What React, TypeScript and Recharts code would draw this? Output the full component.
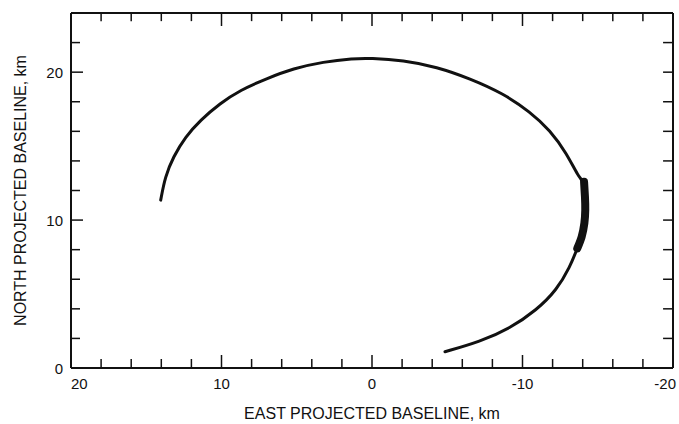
import React from 'react';
import { LineChart, Line, XAxis, YAxis, Label, ReferenceLine } from 'recharts';

// baseline track (east, north in km), start -> end
const eastTrack = [
  14.04, 13.75, 13.2, 12.4, 11.4, 10.1, 8.77, 7.0, 5.23, 3.24, 1.24, 0.13,
  -2.08, -4.3, -6.51, -8.72, -10.5, -11.83, -12.94, -13.71, -14.09, -14.15,
  -14.17, -14.11, -13.93, -13.64, -13.16, -12.27, -10.94, -9.17, -7.18, -4.85,
];
const northTrack = [
  11.35, 12.93, 14.28, 15.63, 16.76, 17.89, 18.78, 19.57, 20.25, 20.7, 20.93, 20.95,
  20.81, 20.36, 19.57, 18.56, 17.32, 16.08, 14.5, 12.93, 12.59, 11.57,
  10.68, 9.78, 8.87, 8.09, 6.84, 5.27, 3.92, 2.68, 1.78, 1.1,
];

// heavy (densely sampled) stretch of the track
const eastHeavy = [-14.09, -14.15, -14.17, -14.11, -13.93, -13.64];
const northHeavy = [12.59, 11.57, 10.68, 9.78, 8.87, 8.09];

const eastTicks = [20, 18, 16, 14, 12, 10, 8, 6, 4, 2, 0, -2, -4, -6, -8, -10, -12, -14, -16, -18, -20];
const northTicks = [0, 2, 4, 6, 8, 10, 12, 14, 16, 18, 20, 22, 24];

const trackData = eastTrack.map((e, i) => ({ east: e, north: northTrack[i] }));
const heavyData = eastHeavy.map((e, i) => ({ east: e, north: northHeavy[i] }));

const INK = '#111';
const FONT = '"Liberation Sans", Arial, Helvetica, sans-serif';

const W = 679;
const H = 424;

// inward tick lengths on the top and right frame, in axis units
const TOP_MAJOR = 0.88;
const TOP_MINOR = 0.55;
const RIGHT_LEN = 0.66;

const BottomTick = (props: any) => {
  const { x, y, payload } = props;
  const v = payload.value;
  const major = v % 10 === 0;
  const axisY = y - 10;
  let anchor = 'middle';
  let tx = x;
  if (v === 20) anchor = 'start';
  if (v === -20) {
    anchor = 'end';
    tx = x + 3;
  }
  return (
    <g>
      <line x1={x} x2={x} y1={axisY} y2={axisY - (major ? 13 : 9)} stroke={INK} strokeWidth={1.5} />
      {major && (
        <text x={tx} y={axisY + 21} textAnchor={anchor} fontSize={15} fill={INK} fontFamily={FONT}>
          {v}
        </text>
      )}
    </g>
  );
};

const LeftTick = (props: any) => {
  const { x, y, payload } = props;
  const v = payload.value;
  const major = v % 10 === 0;
  const axisX = x + 8;
  return (
    <g>
      <line x1={axisX} x2={axisX + (major ? 12 : 9)} y1={y} y2={y} stroke={INK} strokeWidth={1.5} />
      {major && v !== 24 && (
        <text x={x} y={y + 5.5} textAnchor="end" fontSize={15} fill={INK} fontFamily={FONT}>
          {v}
        </text>
      )}
    </g>
  );
};

const axisLine = { stroke: INK, strokeWidth: 2 };

export default function App() {
  return (
    <div style={{ position: 'absolute', left: 0, top: 0, width: W, height: H, background: '#fff', fontFamily: FONT }}>
      <LineChart width={W} height={H} margin={{ top: 12, right: 5, bottom: 0, left: 0 }}>
        <XAxis
          xAxisId={0}
          type="number"
          dataKey="east"
          domain={[-20, 20]}
          reversed
          allowDataOverflow
          ticks={eastTicks}
          interval={0}
          height={56}
          tickSize={0}
          tickMargin={10}
          tickLine={false}
          axisLine={axisLine}
          tick={<BottomTick />}
        >
          <Label
            content={(p: any) => {
              const vb = p.viewBox;
              return (
                <text x={vb.x + vb.width / 2} y={vb.y + 51} textAnchor="middle" fontSize={16} fill={INK} fontFamily={FONT}>
                  EAST PROJECTED BASELINE, km
                </text>
              );
            }}
          />
        </XAxis>
        <XAxis
          xAxisId="top"
          orientation="top"
          type="number"
          dataKey="east"
          domain={[-20, 20]}
          reversed
          allowDataOverflow
          height={1}
          tick={false}
          tickLine={false}
          axisLine={axisLine}
        />
        <YAxis
          yAxisId={0}
          type="number"
          domain={[0, 24]}
          allowDataOverflow
          ticks={northTicks}
          interval={0}
          width={71}
          tickSize={0}
          tickMargin={8}
          tickLine={false}
          axisLine={axisLine}
          tick={<LeftTick />}
        >
          <Label
            content={(p: any) => {
              const vb = p.viewBox;
              const cx = vb.x + 20;
              const cy = vb.y + vb.height / 2;
              return (
                <text
                  x={cx}
                  y={cy}
                  transform={`rotate(-90 ${cx} ${cy})`}
                  textAnchor="middle"
                  dominantBaseline="central"
                  fontSize={16}
                  fill={INK}
                  fontFamily={FONT}
                >
                  NORTH PROJECTED BASELINE, km
                </text>
              );
            }}
          />
        </YAxis>
        <YAxis
          yAxisId="right"
          orientation="right"
          type="number"
          domain={[0, 24]}
          allowDataOverflow
          width={1}
          tick={false}
          tickLine={false}
          axisLine={axisLine}
        />
        {/* invisible copy so the top / right frame axes get built */}
        <Line
          xAxisId="top"
          yAxisId="right"
          data={trackData}
          dataKey="north"
          stroke="none"
          dot={false}
          activeDot={false}
          legendType="none"
          isAnimationActive={false}
        />

        {/* inward ticks along the top frame */}
        {eastTicks.map((v) => (
          <ReferenceLine
            key={`top-${v}`}
            segment={[
              { x: v, y: 24 },
              { x: v, y: 24 - (v % 10 === 0 ? TOP_MAJOR : TOP_MINOR) },
            ]}
            stroke={INK}
            strokeWidth={1.5}
            ifOverflow="visible"
          />
        ))}
        {/* inward ticks along the right frame */}
        {northTicks.map((v) => (
          <ReferenceLine
            key={`right-${v}`}
            segment={[
              { x: -20, y: v },
              { x: -20 + RIGHT_LEN, y: v },
            ]}
            stroke={INK}
            strokeWidth={1.5}
            ifOverflow="visible"
          />
        ))}

        <Line
          data={trackData}
          dataKey="north"
          type="basis"
          stroke={INK}
          strokeWidth={3}
          strokeLinecap="round"
          dot={false}
          isAnimationActive={false}
        />
        <Line
          data={heavyData}
          dataKey="north"
          type="natural"
          stroke={INK}
          strokeWidth={8}
          strokeLinecap="round"
          dot={false}
          isAnimationActive={false}
        />
      </LineChart>
    </div>
  );
}
